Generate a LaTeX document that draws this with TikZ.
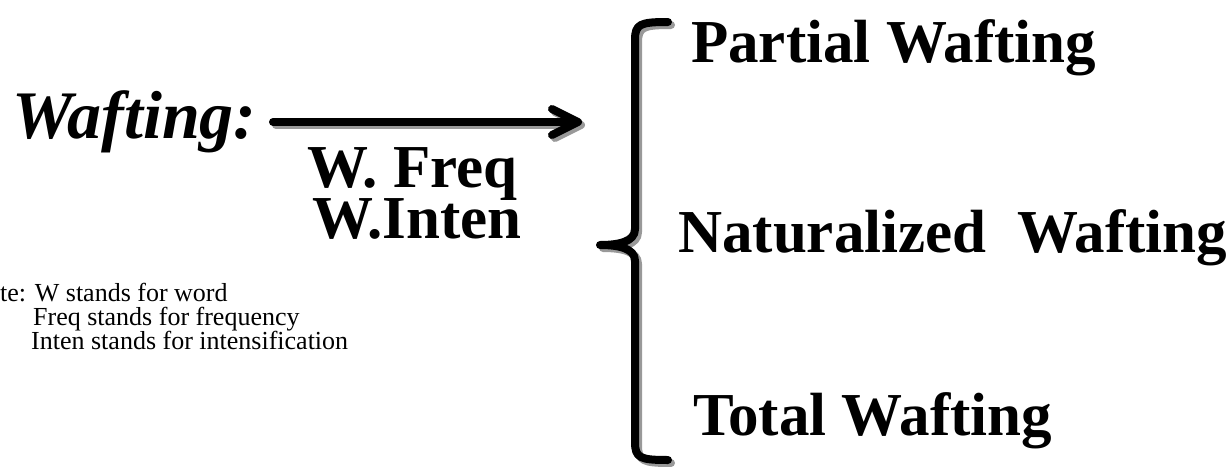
\documentclass[tikz,border=0pt]{standalone}
\usepackage{fontspec}
\setmainfont{Liberation Serif}
\usetikzlibrary{arrows.meta}

\begin{document}
\begin{tikzpicture}[
  x=1pt, y=-1pt,
  bigtext/.style={anchor=base west, inner sep=0pt, font=\fontsize{61}{61}\selectfont\bfseries},
  notetext/.style={anchor=base west, inner sep=0pt, font=\fontsize{26}{26}\selectfont},
  shadowline/.style={draw=black!40, line width=8pt, line cap=round, line join=round},
  mainline/.style={draw=black, line width=8pt, line cap=round, line join=round},
  arw/.style={-{Straight Barb[length=26pt, width=26pt, round]}}
  ]

\fill [white] (0,0) rectangle (1231,466);

% left side
\node [bigtext, font=\fontsize{68}{68}\selectfont\bfseries\itshape] (waft) at (12,138) {Wafting:};
\node [bigtext] (freq) at (307,187) {W. Freq};
\node [bigtext] (inten) at (312,238) {W.Inten};

\node [notetext] (note1) at (0,301) {te: W stands for word};
\node [notetext] (note2) at (33,325) {Freq stands for frequency};
\node [notetext] (note3) at (31,349) {Inten stands for intensification};

% arrow
\coordinate (arrowstart) at (273,122);
\coordinate (arrowend) at (582,122);
\draw [shadowline, arw, transform canvas={xshift=3pt, yshift=-3pt}] (arrowstart) -- (arrowend);
\draw [mainline, arw] (arrowstart) -- (arrowend);

% brace
\coordinate (bracetop) at (668,22);
\coordinate (bracetip) at (600,245);
\coordinate (bracebot) at (668,460);
\foreach \col/\dx in {black!40/3, black/0} {
  \draw [mainline, draw=\col, transform canvas={xshift=\dx pt, yshift=-\dx pt}]
    (bracetop) .. controls (640,22) and (635,24) .. (635,40)
    -- (635,229) .. controls (635,242) and (618,245) .. (bracetip)
    .. controls (618,245) and (635,248) .. (635,261)
    -- (635,442) .. controls (635,458) and (640,460) .. (bracebot);
}

% right side
\node [bigtext] (partial) at (691,62) {Partial Wafting};
\node [bigtext] (natural) at (678,252) {Naturalized\ \ Wafting};
\node [bigtext] (total) at (693,435) {Total Wafting};

\end{tikzpicture}
\end{document}
